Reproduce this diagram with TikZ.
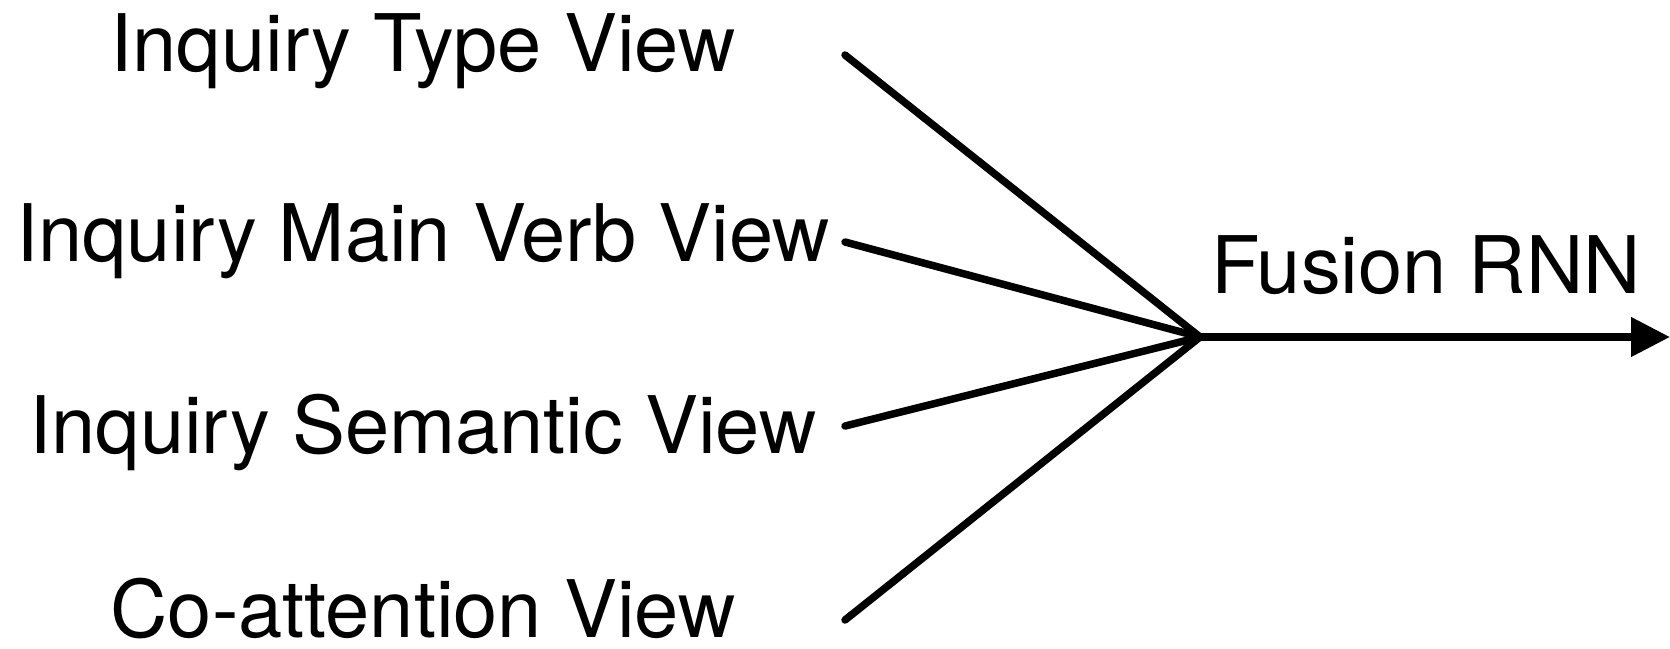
\documentclass[tikz,border=0pt]{standalone}
\usepackage{fontspec}
\setmainfont{TeX Gyre Heros}
\usetikzlibrary{arrows.meta}

\newcommand\viewtextstyle{\fontsize{22.6}{26}\selectfont}
\tikzset{
  viewlabel/.style={anchor=base, inner sep=0pt, font=\viewtextstyle},
  viewline/.style={line width=0.75mm, line cap=round},
}

\begin{document}
\begin{tikzpicture}[x=0.1mm, y=-0.1mm]
  \useasboundingbox (0,0) rectangle (1670,648);
  % views on the left
  \node[viewlabel] (type) at (423,71) {Inquiry Type View};
  \node[viewlabel] (verb) at (423,261) {Inquiry Main Verb View};
  \node[viewlabel] (sem) at (423,453) {Inquiry Semantic View};
  \node[viewlabel] (coatt) at (423,637) {Co-attention View};
  % line ends and fusion point
  \coordinate (typeend) at (845,55);
  \coordinate (verbend) at (845,242);
  \coordinate (semend) at (845,426);
  \coordinate (coattend) at (845,620);
  \coordinate (fuse) at (1200,337);
  \coordinate (out) at (1670,337);
  \draw[viewline] (typeend) -- (fuse);
  \draw[viewline] (verbend) -- (fuse);
  \draw[viewline] (semend) -- (fuse);
  \draw[viewline] (coattend) -- (fuse);
  \draw[viewline, line cap=butt, -{Triangle[length=3.9mm,width=3.8mm]}] (fuse) -- (out);
  \node[viewlabel] (rnn) at (1426,293) {Fusion RNN};
\end{tikzpicture}
\end{document}
